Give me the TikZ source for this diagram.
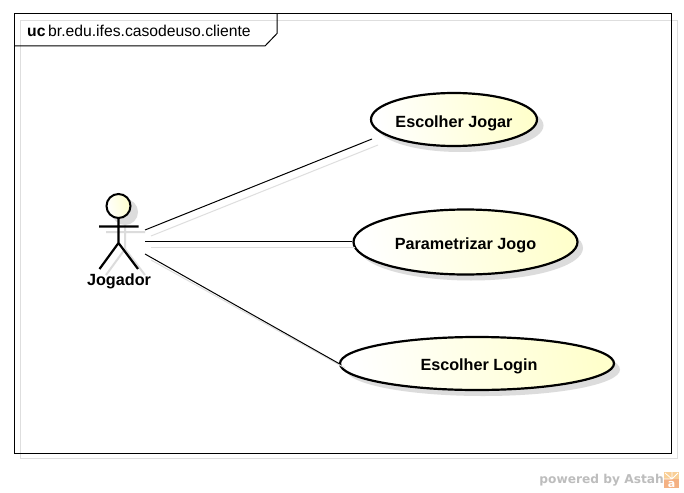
\documentclass[tikz,border=0pt]{standalone}
\usepackage{fontspec}
\setmainfont{Liberation Sans}
\newfontfamily\wmfont{DejaVu Sans}
\usetikzlibrary{shapes.geometric,calc}
\definecolor{shadowgray}{HTML}{DCDCDC}
\definecolor{lightline}{HTML}{DEDEDE}
\definecolor{ucyellow}{HTML}{FFFFCC}
\definecolor{wmgray}{HTML}{BDBDBD}
\definecolor{astah}{HTML}{F4B183}
\definecolor{astahlight}{HTML}{F9CF96}
\tikzset{
  x=1pt,y=-1pt,
  usecase/.style={ellipse,draw=black,line width=2.2pt,inner sep=0pt,left color=white,right color=ucyellow,shading angle=100,text height=17pt,text depth=2pt,font=\fontsize{16.2}{18}\selectfont\bfseries},
  ucshadow/.style={ellipse,fill=shadowgray,draw=none,inner sep=0pt},
  assoc/.style={draw=black,line width=1pt},
  assocshadow/.style={draw=lightline,line width=1pt},
  stick/.style={draw=black,line width=2.2pt},
  stickshadow/.style={draw=shadowgray,line width=2pt},
  framepen/.style={draw=black,line width=1pt},
  frameshadow/.style={draw=lightline,line width=1pt},
}
\begin{document}
\begin{tikzpicture}
\useasboundingbox (0,0) rectangle (684,492);
\fill[white] (0,0) rectangle (684,492);
% frame shadow
\draw[frameshadow] (20.5,20.5) rectangle (677.5,458.5);
% frame
\draw[framepen] (14,14) rectangle (671,453);
\draw[framepen] (14,46) -- (265,46) -- (277,33.5) -- (277,14);
\node[anchor=base west,inner sep=0pt,font=\fontsize{15.7}{18}\selectfont\bfseries] (kind) at (27,37) {uc};
\node[anchor=base west,inner sep=0pt,font=\fontsize{15.7}{18}\selectfont] (title) at (48,37) {br.edu.ifes.casodeuso.cliente};
% shadows of use cases
\node[ucshadow,minimum width=167pt,minimum height=53pt] (s1) at (460,125.5) {};
\node[ucshadow,minimum width=224pt,minimum height=65pt] (s2) at (471,248) {};
\node[ucshadow,minimum width=274pt,minimum height=53pt] (s3) at (483,369.5) {};
% actor shadow
\draw[stickshadow,fill=shadowgray] (125,212) circle (12);
\draw[stickshadow] (125,224) -- (125,249) (106,232) -- (145,232) (125,249) -- (106,275) (125,249) -- (145,275);
% use cases
\node[usecase,minimum width=166pt,minimum height=53pt] (uc1) at (454,119.5) {Escolher Jogar};
\node[usecase,minimum width=224pt,minimum height=65pt,text height=17pt,text depth=2pt] (uc2) at (465.5,242) {Parametrizar Jogo};
\node[usecase,minimum width=274pt,minimum height=53pt,text height=16pt] (uc3) at (477,363.5) {\hspace*{4pt}Escolher Login};
% actor
\node[circle,draw=black,line width=2pt,minimum size=24pt,inner sep=0pt,left color=white,right color=ucyellow,shading angle=100] (head) at (118.5,206) {};
\draw[stick] (head.south) -- (118.5,243) coordinate (hip) (99,226.5) -- (138.5,226.5) (hip) -- (99.5,269) (hip) -- (138,269);
\node[inner sep=0pt,anchor=base,font=\fontsize{16.2}{18}\selectfont\bfseries] (actor) at (119,285) {Jogador};
% connectors
\coordinate (a1) at (145,230);
\coordinate (a2) at (145,241);
\coordinate (a3) at (145,254);
\coordinate (f1) at (372,139);
\coordinate (e1) at (378,145);
\coordinate (e2) at (355,247);
\coordinate (b1) at (151,236);
\coordinate (b2) at (151,247);
\coordinate (b3) at (151,260);
\coordinate (e3) at (345,368);
\draw[assocshadow] (b1) -- (e1);
\draw[assocshadow] (b2) -- (e2);
\draw[assocshadow] (b3) -- (e3);
\draw[assoc] (a1) -- (f1);
\draw[assoc] (a2) -- (uc2.west |- a2);
\draw[assoc] (a3) -- (uc3.west);
% watermark
\node[anchor=base east,inner sep=0pt,text=wmgray,font=\wmfont\fontsize{12.2}{14}\selectfont\bfseries] (wm) at (664,483) {powered by Astah};
\fill[astahlight] (664,472) rectangle (679,488);
\fill[astah] (664,479) rectangle (679,488);
\draw[white,line width=0.8pt] (664,479) -- (672,479) (672,472) -- (672,479) (672,479) -- (665,473) (672,479) -- (678,473);
\node[inner sep=0pt,anchor=base,text=white,font=\wmfont\fontsize{11}{12}\selectfont\bfseries] (wma) at (671.5,487) {a};
\end{tikzpicture}
\end{document}
